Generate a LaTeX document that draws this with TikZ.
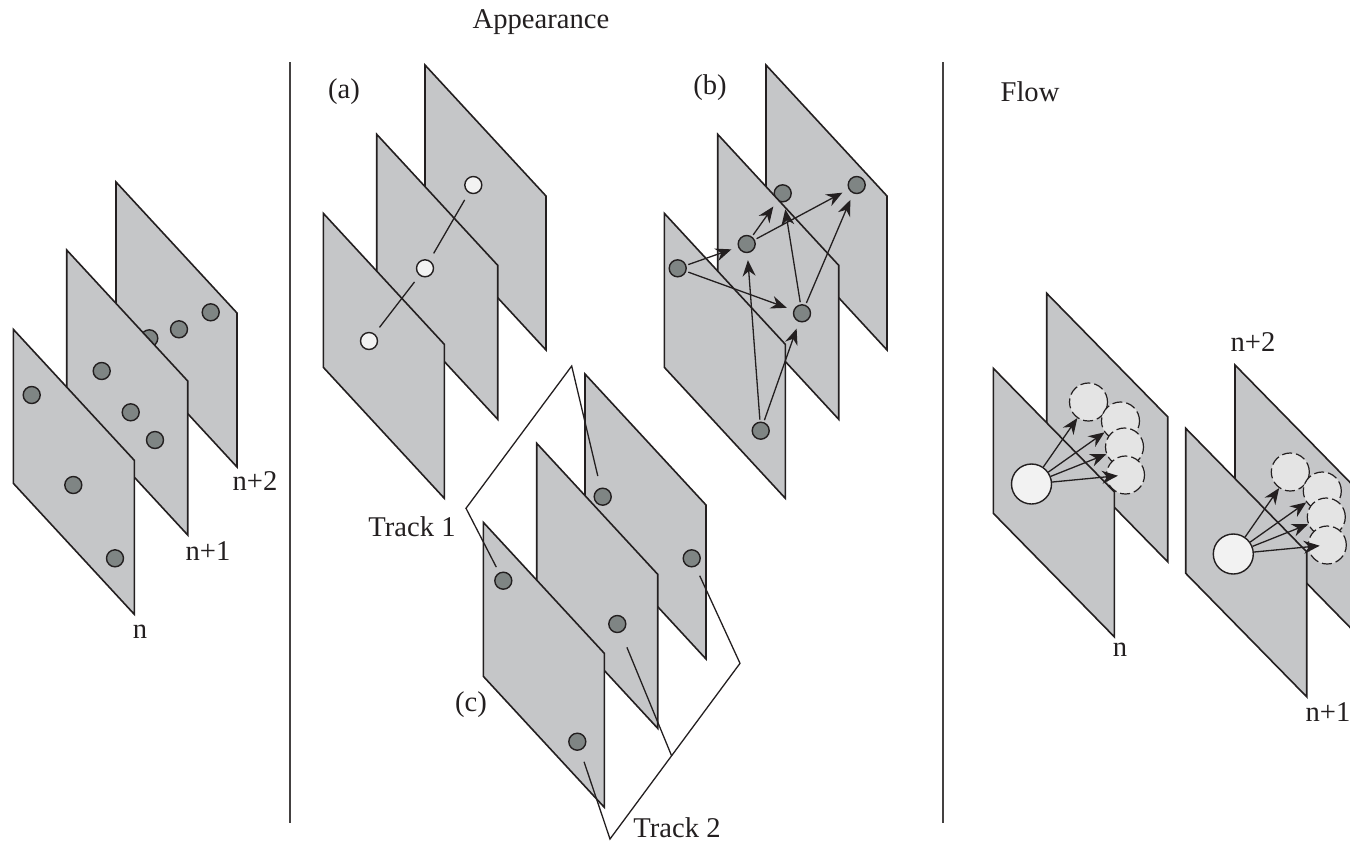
\documentclass[tikz,border=0pt]{standalone}
\usepackage{fontspec}
\setmainfont{Liberation Serif}
\usetikzlibrary{arrows.meta}
\definecolor{ink}{HTML}{231F20}
\definecolor{planefill}{HTML}{C5C6C8}
\definecolor{dotfill}{HTML}{7F8584}
\definecolor{wdot}{HTML}{F2F2F2}
\definecolor{ghost}{HTML}{E4E4E4}
\newcommand\plane[2]{\filldraw[plane] (#1,#2) -- ++(121,131) -- ++(0,154) -- ++(-121,-131) -- cycle;}
\newcommand\fplane[2]{\filldraw[plane] (#1,#2) -- ++(121,123.5) -- ++(0,145) -- ++(-121,-123.5) -- cycle;}
\begin{document}
\begin{tikzpicture}[x=0.5pt,y=-0.5pt,
  plane/.style={fill=planefill,draw=ink,line width=0.8pt,line join=miter},
  gdot/.style={circle,draw=ink,fill=dotfill,line width=0.7pt,minimum size=8.5pt,inner sep=0pt},
  wdotn/.style={gdot,fill=wdot},
  lbl/.style={text=ink,font=\fontsize{14.3}{17}\selectfont,inner sep=0pt},
  arr/.style={draw=ink,line width=0.65pt,-{Stealth[length=8pt,width=6.5pt]},shorten >=3.5pt,shorten <=1pt},
  farr/.style={draw=ink,line width=0.65pt,-{Stealth[length=8pt,width=6.5pt]}},
  tline/.style={draw=ink,line width=0.65pt,shorten >=4pt,shorten <=4pt},
  divider/.style={draw=ink!85,line width=1pt},
  bigc/.style={circle,draw=ink,fill=wdot,line width=0.7pt,minimum size=20pt,inner sep=0pt},
  ghostc/.style={circle,draw=ink,dash pattern=on 5pt off 2pt,fill=ghost,line width=0.6pt,minimum size=19pt,inner sep=0pt},
]
\useasboundingbox (0,0) rectangle (1350,842);
\clip (0,0) rectangle (1350,842);

% titles and dividers
\node[lbl] (tapp) at (541,22) {Appearance};
\node[lbl] (tflow) at (1030,92) {Flow};
\draw[divider] (290,62) -- (290,823);
\draw[divider] (943,62) -- (943,823);

% ---------- left panel ----------
\plane{116}{182}
\node[gdot] (p2a) at (149.3,338.3) {};
\node[gdot] (p2b) at (179,329.3) {};
\node[gdot] (p2c) at (210.7,312.3) {};
\plane{66.7}{250}
\node[gdot] (p1a) at (101.7,371) {};
\node[gdot] (p1b) at (130.7,412.3) {};
\node[gdot] (p1c) at (155,440) {};
\plane{13.3}{329.3}
\node[gdot] (p0a) at (31.7,395) {};
\node[gdot] (p0b) at (73.3,485) {};
\node[gdot] (p0c) at (115,558.3) {};
\node[lbl] (ln2) at (255,481) {n+2};
\node[lbl] (ln1) at (208,551) {n+1};
\node[lbl] (ln0) at (140,632) {n};

% ---------- panel (a) ----------
\plane{425}{65}
\node[wdotn] (a3) at (473.3,185) {};
\plane{376.7}{134.3}
\node[wdotn] (a2) at (425,268.3) {};
\plane{323.3}{213.3}
\node[wdotn] (a1) at (369,341) {};
\draw[tline] (a1) -- (a2);
\draw[tline] (a2) -- (a3);
\node[lbl] (la) at (344,92) {(a)};

% ---------- panel (b) ----------
\plane{766}{65}
\node[gdot] (d3) at (782.7,193.3) {};
\node[gdot] (d4) at (856.7,185) {};
\plane{717.7}{134.3}
\node[gdot] (d2) at (746.7,244) {};
\node[gdot] (d5) at (802,313.3) {};
\plane{664.3}{213.3}
\node[gdot] (d1) at (677.7,268.3) {};
\node[gdot] (d6) at (760.7,430.7) {};
\draw[arr] (d1) -- (d2);
\draw[arr] (d1) -- (d5);
\draw[arr] (d6) -- (d2);
\draw[arr] (d6) -- (d5);
\draw[arr] (d2) -- (d3);
\draw[arr] (d2) -- (d4);
\draw[arr] (d5) -- (d3);
\draw[arr] (d5) -- (d4);
\node[lbl] (lb) at (710,88) {(b)};

% ---------- panel (c) ----------
\plane{585}{374}
\node[gdot] (b1) at (602.7,496.7) {};
\node[gdot] (b2) at (691.7,558.3) {};
\plane{536.7}{443.3}
\node[gdot] (m1) at (617.3,624) {};
\plane{483.3}{522.3}
\node[gdot] (f1) at (503.3,580.7) {};
\node[gdot] (f2) at (577.3,741.7) {};
\coordinate (t1l) at (466,508.3);
\coordinate (t1t) at (571.7,366);
\coordinate (t2r) at (740,663.3);
\coordinate (t2b) at (610,839);
\coordinate (t2j) at (671.7,756);
\draw[tline,shorten <=3pt,shorten >=6pt] (f1) -- (t1l) -- (t1t) -- (b1);
\draw[tline,shorten <=5pt,shorten >=6pt] (b2) -- (t2r) -- (t2b) -- (f2);
\draw[tline,shorten <=8pt,shorten >=0pt] (m1) -- (t2j);
\node[lbl] (lt1) at (412,527) {Track 1};
\node[lbl] (lc) at (471,705) {(c)};
\node[lbl] (lt2) at (677,828) {Track 2};

% ---------- flow pair 1 ----------
\fplane{1046.7}{293.3}
\node[ghostc] (g1a) at (1088.5,402) {};
\node[ghostc] (g1b) at (1120.5,421) {};
\node[ghostc] (g1c) at (1124.5,447) {};
\node[ghostc] (g1d) at (1125.5,475) {};
\fplane{993.3}{368.3}
\node[bigc] (B1) at (1031.5,484) {};
\draw[farr] (B1) -- (g1a);
\draw[farr] (B1) -- (g1b);
\draw[farr] (B1) -- (g1c);
\draw[farr,shorten >=-6pt] (B1) -- (g1d);
\node[lbl] (fn0) at (1120,650) {n};

% ---------- flow pair 2 ----------
\fplane{1235}{365}
\node[ghostc] (g2a) at (1290.3,472) {};
\node[ghostc] (g2b) at (1322.3,491) {};
\node[ghostc] (g2c) at (1326.3,517) {};
\node[ghostc] (g2d) at (1327.3,545) {};
\fplane{1185.7}{428.3}
\node[bigc] (B2) at (1233.3,554) {};
\draw[farr] (B2) -- (g2a);
\draw[farr] (B2) -- (g2b);
\draw[farr] (B2) -- (g2c);
\draw[farr,shorten >=-6pt] (B2) -- (g2d);
\node[lbl] (fn2) at (1253,342) {n+2};
\node[lbl] (fn1) at (1328,712) {n+1};
\end{tikzpicture}
\end{document}
